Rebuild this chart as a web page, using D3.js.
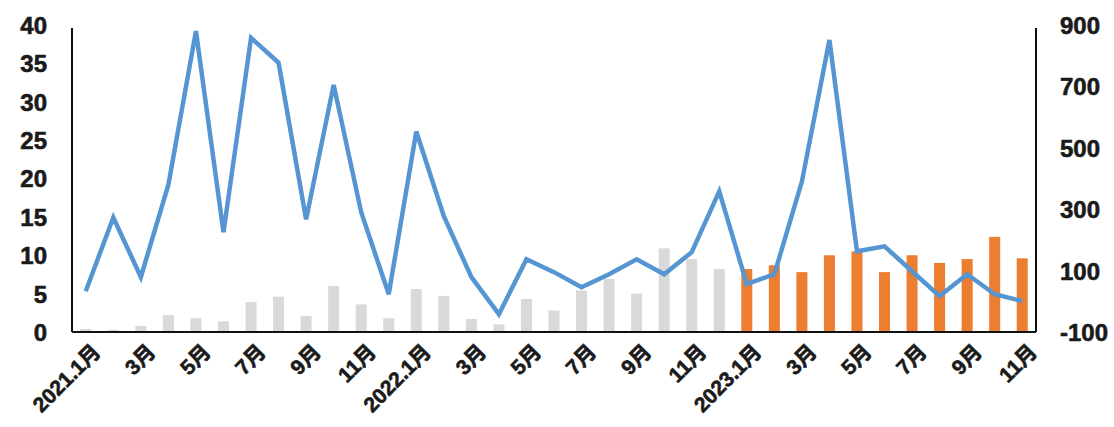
<!DOCTYPE html>
<html>
<head>
<meta charset="utf-8">
<script src="https://cdn.jsdelivr.net/npm/d3@7"></script>
<style>
  html, body { margin: 0; padding: 0; background: #fff; }
  svg { display: block; }
</style>
</head>
<body>
<svg id="chart" width="1114" height="427"></svg>
<script>
// Monthly categories, 2021.1 – 2023.11
const months = [
  "2021.1月","2月","3月","4月","5月","6月","7月","8月","9月","10月","11月","12月",
  "2022.1月","2月","3月","4月","5月","6月","7月","8月","9月","10月","11月","12月",
  "2023.1月","2月","3月","4月","5月","6月","7月","8月","9月","10月","11月"
];

// Bar series (left axis)
const barValues = [
  0.4, 0.3, 0.8, 2.2, 1.8, 1.4, 3.9, 4.6, 2.1, 6.0, 3.6, 1.8,
  5.6, 4.7, 1.7, 1.0, 4.3, 2.8, 5.4, 6.9, 5.0, 10.9, 9.5, 8.2,
  8.2, 8.7, 7.8, 10.0, 10.5, 7.8, 10.0, 9.0, 9.5, 12.4, 9.6
];

// Line series (right axis)
const lineValues = [
  33, 273, 79, 380, 880, 225, 858, 777, 267, 705, 290, 23,
  553, 277, 79, -42, 137, 95, 46, 88, 137, 88, 160, 358,
  56, 88, 390, 851, 163, 179, 98, 17, 88, 23, 1
];

// Axis ticks
const leftTicks = [0, 5, 10, 15, 20, 25, 30, 35, 40];
const rightTicks = [-100, 100, 300, 500, 700, 900];
// Every other month carries a label on the x axis
const labelledIdx = months.map((m, i) => i).filter(i => i % 2 === 0);

const svg = d3.select("#chart");
const pLeft = 72, pRight = 1036, pTop = 25, pBottom = 332;
const idx = months.map((m, i) => i);

const x = d3.scaleBand().domain(idx).range([pLeft, pRight]).paddingInner(0.6).paddingOuter(0.3);
const yL = d3.scaleLinear().domain([0, 40]).range([pBottom, pTop]);
const yR = d3.scaleLinear().domain([-100, 900]).range([pBottom, pTop]);

// Bars: 2023 highlighted in orange
svg.append("g").selectAll("rect")
  .data(barValues)
  .join("rect")
  .attr("x", (d, i) => x(i))
  .attr("width", x.bandwidth())
  .attr("y", d => yL(d))
  .attr("height", d => yL(0) - yL(d))
  .attr("fill", (d, i) => i >= 24 ? "#ed7d31" : "#d9d9d9");

// Line
const line = d3.line()
  .x((d, i) => x(i) + x.bandwidth() / 2)
  .y(d => yR(d));
svg.append("path")
  .datum(lineValues)
  .attr("d", line)
  .attr("fill", "none")
  .attr("stroke", "#5596d2")
  .attr("stroke-width", 4.5)
  .attr("stroke-linejoin", "miter");

function styleText(sel, size) {
  sel.attr("font-size", size)
    .style("font-family", "'Liberation Sans', 'Noto Sans CJK SC', sans-serif")
    .style("font-weight", 700)
    .attr("fill", "#1a1a1a")
    .attr("stroke", "#1a1a1a")
    .attr("stroke-width", 0.6);
}

// Left axis
const axL = svg.append("g").attr("transform", `translate(${pLeft},0)`)
  .call(d3.axisLeft(yL).tickValues(leftTicks).tickSize(0).tickPadding(25).tickFormat(d => String(d)));
axL.select(".domain").attr("stroke", "#111").attr("stroke-width", 2).attr("d", `M0,${pBottom}V${pTop + 3}`);
styleText(axL.selectAll("text").attr("dy", "0.35em"), 24);

// Right axis
const axR = svg.append("g").attr("transform", `translate(${pRight},0)`)
  .call(d3.axisRight(yR).tickValues(rightTicks).tickSize(0).tickPadding(24).tickFormat(d => String(d)));
axR.select(".domain").attr("stroke", "#111").attr("stroke-width", 2).attr("d", `M0,${pBottom}V${pTop + 3}`);
styleText(axR.selectAll("text").attr("dy", "0.35em"), 24);

// Bottom axis with rotated month labels
const axB = svg.append("g").attr("transform", `translate(0,${pBottom})`)
  .call(d3.axisBottom(x).tickValues(labelledIdx).tickSize(0).tickFormat(i => months[i]));
axB.select(".domain").attr("stroke", "#111").attr("stroke-width", 2).attr("d", `M${pLeft},0H${pRight}`);
styleText(axB.selectAll("text")
  .attr("text-anchor", "end")
  .attr("dy", 0)
  .attr("transform", "translate(14,19) rotate(-45)"), 21);
</script>
</body>
</html>
